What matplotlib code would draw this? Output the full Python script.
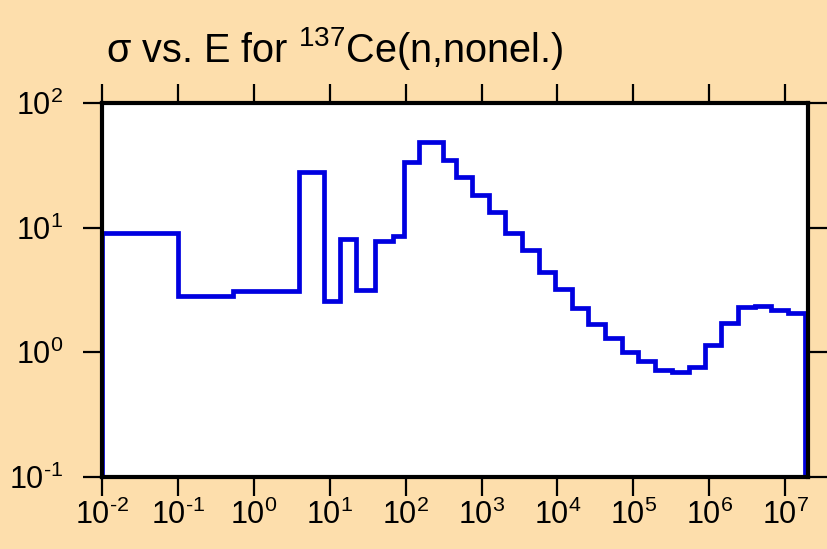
import numpy as np, matplotlib
matplotlib.use("Agg")
import matplotlib.pyplot as plt
from matplotlib.ticker import LogLocator, NullLocator, FuncFormatter

plt.rcParams.update({
    "font.family": ["Liberation Sans", "DejaVu Sans"],
    "mathtext.fontset": "custom",
    "mathtext.rm": "Liberation Sans",
    "mathtext.it": "Liberation Sans",
    "mathtext.default": "regular",
    "axes.unicode_minus": False,
})

BG = "#fddeac"
LINE = "#0000e0"

# group boundaries (eV) and cross sections (b)
edges = [1e-2, 0.1, 0.54, 4.0, 8.3, 13.8, 22.4, 40, 68, 95, 148, 307, 455, 757,
         1260, 2070, 3410, 5680, 9420, 1.55e4, 2.56e4, 4.24e4, 7.06e4, 1.16e5,
         1.93e5, 3.21e5, 5.35e5, 8.7e5, 1.44e6, 2.4e6, 4.0e6, 6.5e6, 1.08e7, 1.85e7]
sigma = [9.1, 2.85, 3.13, 28.0, 2.6, 8.1, 3.15, 7.8, 8.6, 33.4, 49.0, 34.9, 25.6,
         18.2, 13.3, 9.0, 6.6, 4.44, 3.2, 2.28, 1.68, 1.30, 1.01, 0.85, 0.72, 0.69,
         0.76, 1.14, 1.71, 2.30, 2.35, 2.17, 2.08]
xlim = (1e-2, 2.0e7)
ylim = (1e-1, 1e2)

def dec(v, pos):
    e = int(round(np.log10(v)))
    s = str(e).replace("-", r"\text{-}")
    return r"$10^{%s}$" % s

fig = plt.figure(figsize=(8.27, 5.49), dpi=100, facecolor=BG)
ax = fig.add_axes([0.1233, 0.1311, 0.977 - 0.1233, 0.8124 - 0.1311])
ax.set_facecolor("white")

ax.stairs(sigma, edges, baseline=ylim[0], color=LINE, linewidth=3.4)

ax.set_xscale("log"); ax.set_yscale("log")
ax.set_xlim(*xlim); ax.set_ylim(*ylim)
for a in (ax.xaxis, ax.yaxis):
    a.set_major_locator(LogLocator(base=10, numticks=20))
    a.set_minor_locator(NullLocator())
    a.set_major_formatter(FuncFormatter(dec))
ax.tick_params(which="major", direction="out", length=14, width=1.6, labelsize=22,
               top=True, right=True, labeltop=False, labelright=False)
ax.tick_params(axis="x", pad=2)
ax.tick_params(axis="y", pad=14)
for s in ax.spines.values():
    s.set_linewidth(3)

fig.text(106 / 827, 1 - 62 / 549, r"σ vs. E for $^{137}$Ce(n,nonel.)",
         fontsize=28.5, ha="left", va="baseline")

fig.savefig("out.png", dpi=100, facecolor=BG)
